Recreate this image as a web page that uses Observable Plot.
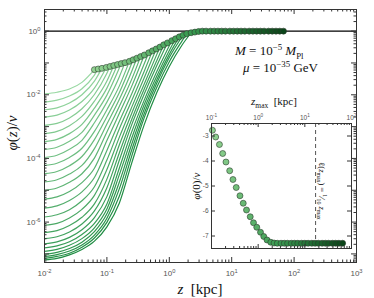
<!DOCTYPE html>
<html><head><meta charset="utf-8">
<script src="https://cdn.jsdelivr.net/npm/d3@7"></script>
<script src="https://cdn.jsdelivr.net/npm/@observablehq/plot@0.6"></script>
<style>
body{margin:0;background:#fff;}
#wrap{position:relative;width:374px;height:298px;overflow:hidden;}
#wrap svg{position:absolute;}
.lbl{position:absolute;font-family:"Liberation Serif","DejaVu Serif",serif;color:#111 !important;white-space:nowrap;line-height:1;}
.lbl sup,.lbl sub{font-size:68%;line-height:0;}
</style></head><body><div id="wrap"></div>
<script>
// ---------- data (log10 values) ----------
const curveLogZGrid = [-2, -1.8, -1.6, -1.4, -1.2, -1.0, -0.8, -0.6, -0.4, -0.2, 0.0, 0.2];
const curveLogPhi = [
  [-1.97,-1.92,-1.82,-1.61],
  [-2.23,-2.17,-2.04,-1.81,-1.38],
  [-2.47,-2.41,-2.26,-2.00,-1.57],
  [-2.70,-2.64,-2.48,-2.21,-1.79],
  [-2.96,-2.90,-2.73,-2.44,-1.99,-1.32],
  [-3.22,-3.15,-2.97,-2.68,-2.20,-1.57],
  [-3.47,-3.40,-3.22,-2.93,-2.42,-1.79],
  [-3.72,-3.65,-3.46,-3.18,-2.64,-2.01],
  [-3.97,-3.90,-3.71,-3.43,-2.88,-2.23,-1.43],
  [-4.22,-4.15,-3.97,-3.68,-3.15,-2.47,-1.72],
  [-4.48,-4.41,-4.23,-3.94,-3.41,-2.69,-1.93],
  [-4.74,-4.67,-4.49,-4.22,-3.69,-2.92,-2.14,-1.25],
  [-5.00,-4.93,-4.75,-4.48,-3.99,-3.17,-2.36,-1.50],
  [-5.28,-5.21,-5.04,-4.76,-4.31,-3.44,-2.58,-1.72],
  [-5.56,-5.49,-5.32,-5.05,-4.60,-3.75,-2.83,-1.96,-1.02],
  [-5.84,-5.77,-5.61,-5.33,-4.89,-4.05,-3.07,-2.17,-1.25],
  [-6.10,-6.04,-5.87,-5.60,-5.16,-4.35,-3.33,-2.38,-1.46],
  [-6.33,-6.27,-6.11,-5.85,-5.43,-4.65,-3.57,-2.57,-1.65,-0.73],
  [-6.52,-6.46,-6.31,-6.06,-5.65,-4.92,-3.82,-2.76,-1.81,-0.92],
  [-6.68,-6.62,-6.48,-6.24,-5.86,-5.20,-4.05,-2.93,-1.97,-1.08],
  [-6.81,-6.75,-6.62,-6.39,-6.04,-5.43,-4.30,-3.15,-2.16,-1.27],
  [-6.92,-6.86,-6.73,-6.52,-6.18,-5.59,-4.51,-3.35,-2.30,-1.41,-0.61],
  [-7.01,-6.95,-6.83,-6.63,-6.30,-5.74,-4.74,-3.54,-2.44,-1.53,-0.73],
  [-7.08,-7.02,-6.91,-6.72,-6.41,-5.88,-4.95,-3.72,-2.58,-1.63,-0.83],
  [-7.14,-7.08,-6.98,-6.79,-6.50,-6.01,-5.18,-3.91,-2.71,-1.76,-0.96,-0.32],
  [-7.19,-7.14,-7.03,-6.86,-6.60,-6.15,-5.40,-4.13,-2.93,-1.93,-1.11,-0.45]
];
const circleLogZ = [-1.20,-1.14,-1.08,-1.01,-0.95,-0.89,-0.83,-0.77,-0.71,-0.64,-0.58,-0.52,-0.46,-0.40,-0.33,-0.27,-0.21,-0.15,-0.09,-0.03,0.04,0.10,0.16,0.22,0.28,0.35,0.41,0.47,0.53,0.59,0.66,0.72,0.78,0.84,0.90,0.97,1.03,1.09,1.15,1.21,1.28,1.34,1.40,1.46,1.52,1.59,1.65,1.71,1.77,1.83];
const circleLogPhi = [-1.21,-1.19,-1.17,-1.14,-1.11,-1.08,-1.05,-1.02,-0.99,-0.95,-0.90,-0.85,-0.80,-0.75,-0.68,-0.62,-0.56,-0.50,-0.43,-0.37,-0.30,-0.24,-0.18,-0.13,-0.08,-0.05,-0.03,-0.01,0,0,0,0,0,0,0,0,0,0,0,0,0,0,0,0,0,0,0,0,0,0];
const insetLogZmax = [-0.98,-0.91,-0.83,-0.76,-0.69,-0.61,-0.54,-0.47,-0.39,-0.32,-0.25,-0.17,-0.10,-0.03,0.05,0.12,0.19,0.27,0.34,0.41,0.49,0.56,0.63,0.71,0.78,0.85,0.93,1.00,1.07,1.15,1.22,1.29,1.37,1.44,1.51,1.59,1.66,1.73,1.81];
const insetLogPhi0 = [-2.77,-3.04,-3.34,-3.70,-4.04,-4.39,-4.74,-5.06,-5.39,-5.69,-5.96,-6.23,-6.47,-6.65,-6.85,-7.02,-7.16,-7.25,-7.28,-7.29,-7.29,-7.29,-7.29,-7.29,-7.29,-7.29,-7.29,-7.29,-7.29,-7.29,-7.29,-7.29,-7.29,-7.29,-7.29,-7.29,-7.29,-7.29,-7.29];
const dashedZmax = 17;
const referenceLevel = [1];
const xTickValues = [1e-2, 1e-1, 1, 10, 100, 1000];
const yTickLabelValues = [1e-6, 1e-4, 1e-2, 1];
const insetXTickValues = [0.1, 1, 10, 100];
const insetYTickValues = [-3, -4, -5, -6, -7];

// ---------- helpers ----------
const curveColor = d3.interpolateRgb("#98d8a2", "#1f8d43");
const dotColor = d3.piecewise(d3.interpolateRgb, ["#92d392", "#3a9c52", "#0b4519"]);
const expFmt = d => "10^" + Math.round(Math.log10(d));
function superscriptify(svg) {
  svg.querySelectorAll("text").forEach(t => {
    const m = /^10\^(-?\d+)$/.exec(t.textContent);
    if (!m) return;
    t.textContent = "";
    const ns = "http://www.w3.org/2000/svg";
    const a = document.createElementNS(ns, "tspan"); a.textContent = "10";
    const b = document.createElementNS(ns, "tspan"); b.textContent = m[1];
    b.setAttribute("dy", "-0.5em"); b.setAttribute("font-size", "0.72em");
    t.append(a, b);
  });
}

// ---------- main chart ----------
const curveRows = [];
curveLogPhi.forEach((vals, k) => {
  const col = curveColor(k / (curveLogPhi.length - 1));
  vals.forEach((v, i) => curveRows.push({k, z: 10 ** curveLogZGrid[i], phi: 10 ** v, color: col}));
  curveRows.push({k, z: 10 ** circleLogZ[k], phi: 10 ** circleLogPhi[k], color: col});
});
const circleRows = circleLogZ.map((lz, i) => ({z: 10 ** lz, phi: 10 ** circleLogPhi[i], color: dotColor(i / (circleLogZ.length - 1))}));

const mW = 374, mH = 298, mL = 44, mR = 18, mT = 9, mB = 36;
const pW = mW - mL - mR, pH = mH - mT - mB;
const xDom = [1e-2, 1e3], yDom = [10 ** -7.27, 10 ** 0.68];
const xAll = d3.scaleLog().domain(xDom).ticks();
const yAll = d3.scaleLog().domain(yDom).ticks();
const isMajor = d => Math.abs(Math.log10(d) - Math.round(Math.log10(d))) < 1e-9;
const xMaj = xAll.filter(isMajor), xMin = xAll.filter(d => !isMajor(d));
const yMaj = yAll.filter(isMajor), yMin = yAll.filter(d => !isMajor(d));
const fc = "#333";

const main = Plot.plot({
  width: mW, height: mH, marginLeft: mL, marginRight: mR, marginTop: mT, marginBottom: mB,
  style: {fontFamily: "'Liberation Sans', Arial, sans-serif", fontSize: "8px", background: "white", color: "#555"},
  x: {type: "log", domain: xDom},
  y: {type: "log", domain: yDom},
  color: {type: "identity"},
  marks: [
    Plot.line(curveRows, {x: "z", y: "phi", z: "k", stroke: "color", strokeWidth: 1.2, curve: "monotone-x"}),
    Plot.ruleY(referenceLevel, {stroke: "#000", strokeWidth: 1.2}),
    Plot.dot(circleRows, {x: "z", y: "phi", r: 3, fill: "color", stroke: "#2c3d2e", strokeWidth: 0.6}),
    Plot.frame({stroke: fc, strokeWidth: 1}),
    Plot.tickX(xMaj, {x: d => d, insetTop: pH - 5, stroke: fc}),
    Plot.tickX(xMin, {x: d => d, insetTop: pH - 2.5, stroke: fc}),
    Plot.tickX(xMaj, {x: d => d, insetBottom: pH - 5, stroke: fc}),
    Plot.tickX(xMin, {x: d => d, insetBottom: pH - 2.5, stroke: fc}),
    Plot.tickY(yMaj, {y: d => d, insetRight: pW - 5, stroke: fc}),
    Plot.tickY(yMin, {y: d => d, insetRight: pW - 2.5, stroke: fc}),
    Plot.tickY(yMaj, {y: d => d, insetLeft: pW - 5, stroke: fc}),
    Plot.tickY(yMin, {y: d => d, insetLeft: pW - 2.5, stroke: fc}),
    Plot.axisX({ticks: xTickValues, tickSize: 0, tickPadding: 8, tickFormat: expFmt, label: null, fill: "#555"}),
    Plot.axisY({ticks: yTickLabelValues, tickSize: 0, tickPadding: 4, tickFormat: expFmt, label: null, fill: "#555"})
  ]
});
superscriptify(main);
main.style.left = "0px"; main.style.top = "0px";
main.style.width = mW + "px"; main.style.height = mH + "px"; main.style.maxWidth = "none";

// ---------- inset ----------
const insetRows = insetLogZmax.map((lz, i) => ({z: 10 ** lz, p: insetLogPhi0[i], color: dotColor(i / (insetLogZmax.length - 1))}));
const iW = 180, iH = 165, iL = 26, iR = 14, iT = 28, iB = 12;
const ipW = iW - iL - iR, ipH = iH - iT - iB;
const ixDom = [0.1, 100];
const ixAll = d3.scaleLog().domain(ixDom).ticks();
const ixMaj = ixAll.filter(isMajor), ixMin = ixAll.filter(d => !isMajor(d));
const inset = Plot.plot({
  width: iW, height: iH, marginLeft: iL, marginRight: iR, marginTop: iT, marginBottom: iB,
  style: {fontFamily: "'Liberation Sans', Arial, sans-serif", fontSize: "6.5px", background: "transparent", color: "#555"},
  x: {type: "log", domain: ixDom},
  y: {domain: [-7.5, -2.5]},
  color: {type: "identity"},
  marks: [
    Plot.ruleX([dashedZmax], {stroke: "#555", strokeWidth: 1, strokeDasharray: "4,3"}),
    Plot.dot(insetRows, {x: "z", y: "p", r: 3, fill: "color", stroke: "#2c3d2e", strokeWidth: 0.6}),
    Plot.frame({stroke: fc, strokeWidth: 1}),
    Plot.tickX(ixMaj, {x: d => d, insetBottom: ipH - 4, stroke: fc}),
    Plot.tickX(ixMin, {x: d => d, insetBottom: ipH - 2, stroke: fc}),
    Plot.tickX(ixMaj, {x: d => d, insetTop: ipH - 4, stroke: fc}),
    Plot.tickX(ixMin, {x: d => d, insetTop: ipH - 2, stroke: fc}),
    Plot.tickY(insetYTickValues, {y: d => d, insetRight: ipW - 4, stroke: fc}),
    Plot.tickY(insetYTickValues, {y: d => d, insetLeft: ipW - 4, stroke: fc}),
    Plot.axisX({anchor: "top", ticks: insetXTickValues, tickSize: 0, tickPadding: 4, tickFormat: expFmt, label: null, fill: "#555"}),
    Plot.axisY({ticks: insetYTickValues, tickSize: 0, tickPadding: 3, tickFormat: d => String(d), label: null, fill: "#555"})
  ]
});
superscriptify(inset);
inset.style.left = "185px"; inset.style.top = "95px";
inset.style.width = iW + "px"; inset.style.height = iH + "px"; inset.style.maxWidth = "none";

const wrap = document.getElementById("wrap");
wrap.append(main, inset);

// ---------- text labels ----------
const labels = [
  {html: "<i>z</i>&nbsp;&nbsp;[kpc]", x: 200, y: 289, size: 15, rot: 0},
  {html: "<i>φ</i>(<i>z</i>)/<i>v</i>", x: 12, y: 133, size: 15, rot: -90},
  {html: "<i>z</i><sub>max</sub>&nbsp;&nbsp;[kpc]", x: 274, y: 101, size: 11, rot: 0},
  {html: "<i>φ</i>(0)/<i>v</i>", x: 196, y: 186, size: 11, rot: -90},
  {html: "ℓ(<i>z</i><sub>max</sub>) = <sup>1</sup>⁄<sub>10</sub> <i>z</i><sub>max</sub>", x: 322, y: 191, size: 8.5, rot: 90}
];
labels.forEach(l => {
  const d = document.createElement("div");
  d.className = "lbl"; d.innerHTML = l.html;
  d.style.fontSize = l.size + "px";
  d.style.left = l.x + "px"; d.style.top = l.y + "px";
  d.style.transform = `translate(-50%,-50%) rotate(${l.rot}deg)`;
  wrap.append(d);
});
const notes = [
  {html: "<i>M</i> = 10<sup>−5</sup> <i>M</i><sub>Pl</sub>", x: 235, y: 44},
  {html: "<i>μ</i> = 10<sup>−35</sup> GeV", x: 243, y: 61}
];
notes.forEach(n => {
  const d = document.createElement("div");
  d.className = "lbl"; d.innerHTML = n.html;
  d.style.fontSize = "13px"; d.style.left = n.x + "px"; d.style.top = n.y + "px";
  wrap.append(d);
});
</script></body></html>
